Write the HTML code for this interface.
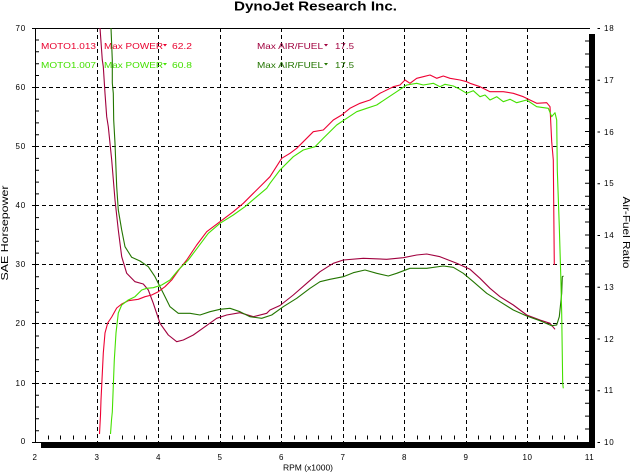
<!DOCTYPE html>
<html><head><meta charset="utf-8"><style>
html,body{margin:0;padding:0;background:#fff;}
svg{display:block;}
text{font-family:"Liberation Sans",sans-serif;}
</style></head><body>
<svg width="630" height="473" viewBox="0 0 630 473" xmlns="http://www.w3.org/2000/svg">
<rect width="630" height="473" fill="#fff"/>
<text x="234" y="10.5" font-size="13" font-weight="bold" textLength="163" lengthAdjust="spacingAndGlyphs">DynoJet Research Inc.</text>

<!-- grid -->
<g stroke="#000" stroke-width="1" stroke-dasharray="4 3" fill="none">
<line x1="97.5" y1="28" x2="97.5" y2="442"/>
<line x1="158.5" y1="28" x2="158.5" y2="442"/>
<line x1="220.5" y1="28" x2="220.5" y2="442"/>
<line x1="281.5" y1="28" x2="281.5" y2="442"/>
<line x1="343.5" y1="28" x2="343.5" y2="442"/>
<line x1="404.5" y1="28" x2="404.5" y2="442"/>
<line x1="466.5" y1="28" x2="466.5" y2="442"/>
<line x1="527.5" y1="28" x2="527.5" y2="442"/>
<line x1="35" y1="87.5" x2="589" y2="87.5"/>
<line x1="35" y1="146.5" x2="589" y2="146.5"/>
<line x1="35" y1="205.5" x2="589" y2="205.5"/>
<line x1="35" y1="264.5" x2="589" y2="264.5"/>
<line x1="35" y1="323.5" x2="589" y2="323.5"/>
<line x1="35" y1="383.5" x2="589" y2="383.5"/>
</g>

<!-- frame -->
<g stroke="#000" stroke-width="1" fill="none">
<line x1="32" y1="28.5" x2="590" y2="28.5"/>
<line x1="35.5" y1="28" x2="35.5" y2="443"/>
<line x1="32" y1="442.5" x2="42" y2="442.5"/>
<line x1="32" y1="87.5" x2="35" y2="87.5"/>
<line x1="32" y1="146.5" x2="35" y2="146.5"/>
<line x1="32" y1="205.5" x2="35" y2="205.5"/>
<line x1="32" y1="264.5" x2="35" y2="264.5"/>
<line x1="32" y1="323.5" x2="35" y2="323.5"/>
<line x1="32" y1="383.5" x2="35" y2="383.5"/>
</g>
<rect x="41" y="442" width="554" height="6" fill="#000"/>
<rect x="589" y="34" width="6" height="414" fill="#000"/>

<!-- left minor ticks every 2 HP -->
<g stroke="#000" stroke-width="1">
<path d="M35 430.7H39M35 418.8H39M35 407H39M35 395.2H39M35 371.5H39M35 359.7H39M35 347.8H39M35 336H39M35 312.3H39M35 300.5H39M35 288.6H39M35 276.8H39M35 253.1H39M35 241.3H39M35 229.4H39M35 217.6H39M35 193.9H39M35 182.1H39M35 170.2H39M35 158.4H39M35 134.7H39M35 122.9H39M35 111H39M35 99.2H39M35 75.5H39M35 63.7H39M35 51.8H39M35 40H39"/>
</g>

<!-- bottom minor ticks -->
<g stroke="#000" stroke-width="1">
<path d="M48.5 435.5V439.5M60.5 435.5V439.5M73.5 435.5V439.5M85.5 435.5V439.5M109.5 435.5V439.5M122.5 435.5V439.5M134.5 435.5V439.5M146.5 435.5V439.5M171.5 435.5V439.5M183.5 435.5V439.5M195.5 435.5V439.5M208.5 435.5V439.5M232.5 435.5V439.5M244.5 435.5V439.5M257.5 435.5V439.5M269.5 435.5V439.5M294.5 435.5V439.5M306.5 435.5V439.5M318.5 435.5V439.5M331.5 435.5V439.5M355.5 435.5V439.5M367.5 435.5V439.5M380.5 435.5V439.5M392.5 435.5V439.5M417.5 435.5V439.5M429.5 435.5V439.5M441.5 435.5V439.5M454.5 435.5V439.5M478.5 435.5V439.5M490.5 435.5V439.5M503.5 435.5V439.5M515.5 435.5V439.5M539.5 435.5V439.5M552.5 435.5V439.5M564.5 435.5V439.5M577.5 435.5V439.5"/>
</g>

<!-- right ticks every 0.25 AFR -->
<g stroke="#000" stroke-width="1">
<path d="M585 41H589M585 54H589M585 67H589M585 79.8H589M585 92.7H589M585 105.6H589M585 118.6H589M585 131.5H589M585 144.5H589M585 157.4H589M585 170.3H589M585 183.3H589M585 196.2H589M585 209.1H589M585 222H589M585 235H589M585 248H589M585 261H589M585 274H589M585 286.8H589M585 299.7H589M585 312.6H589M585 325.6H589M585 338.5H589M585 351.4H589M585 364.4H589M585 377.3H589M585 390.3H589M585 403.2H589M585 416.1H589M585 429H589"/>
<path d="M597.5 28.5H600M597.5 80.3H600M597.5 132H600M597.5 183.8H600M597.5 235.5H600M597.5 287.3H600M597.5 339H600M597.5 390.8H600M597.5 442.5H600"/>
</g>

<!-- left labels -->
<g font-size="8" text-anchor="end" letter-spacing="0.8">
<text x="26" y="31">70</text>
<text x="26" y="90">60</text>
<text x="26" y="149">50</text>
<text x="26" y="208">40</text>
<text x="26" y="267">30</text>
<text x="26" y="326">20</text>
<text x="26" y="386">10</text>
<text x="26" y="444">0</text>
</g>
<!-- right labels -->
<g font-size="8" letter-spacing="0.8">
<text x="604" y="31">18</text>
<text x="604" y="83">17</text>
<text x="604" y="135">16</text>
<text x="604" y="186">15</text>
<text x="604" y="238">14</text>
<text x="604" y="290">13</text>
<text x="604" y="342">12</text>
<text x="604" y="393">11</text>
<text x="604" y="445">10</text>
</g>
<!-- bottom labels -->
<g font-size="8" text-anchor="middle" letter-spacing="0.5">
<text x="35" y="460">2</text>
<text x="97" y="460">3</text>
<text x="158.5" y="460">4</text>
<text x="220" y="460">5</text>
<text x="281.5" y="460">6</text>
<text x="343" y="460">7</text>
<text x="404.5" y="460">8</text>
<text x="466" y="460">9</text>
<text x="527.5" y="460">10</text>
<text x="589.5" y="460">11</text>
</g>
<text x="283" y="470.5" font-size="8" textLength="50" lengthAdjust="spacingAndGlyphs">RPM (x1000)</text>
<text transform="translate(8,233) rotate(-90)" font-size="10" text-anchor="middle" textLength="95" lengthAdjust="spacingAndGlyphs">SAE Horsepower</text>
<text transform="translate(623,232.5) rotate(90)" font-size="10" text-anchor="middle" textLength="72" lengthAdjust="spacingAndGlyphs">Air-Fuel Ratio</text>

<!-- legend -->
<g font-size="8.5">
<text x="41" y="49" fill="#e8002e" textLength="55" lengthAdjust="spacingAndGlyphs">MOTO1.013</text>
<text x="104" y="49" fill="#e8002e" textLength="59" lengthAdjust="spacingAndGlyphs">Max POWER</text>
<text x="172" y="49" fill="#e8002e" textLength="20" lengthAdjust="spacingAndGlyphs">62.2</text>
<text x="257" y="49" fill="#a0003e" textLength="66" lengthAdjust="spacingAndGlyphs">Max AIR/FUEL</text>
<text x="335" y="49" fill="#a0003e" textLength="19" lengthAdjust="spacingAndGlyphs">17.5</text>
<text x="41" y="68" fill="#44e000" textLength="55" lengthAdjust="spacingAndGlyphs">MOTO1.007</text>
<text x="104" y="68" fill="#44e000" textLength="59" lengthAdjust="spacingAndGlyphs">Max POWER</text>
<text x="172" y="68" fill="#44e000" textLength="20" lengthAdjust="spacingAndGlyphs">60.8</text>
<text x="257" y="68" fill="#237500" textLength="66" lengthAdjust="spacingAndGlyphs">Max AIR/FUEL</text>
<text x="335" y="68" fill="#237500" textLength="19" lengthAdjust="spacingAndGlyphs">17.5</text>
</g>
<polygon points="163,44 167,44 165,46.5" fill="#e8002e"/>
<polygon points="324,44 328,44 326,46.5" fill="#a0003e"/>
<polygon points="163,63 167,63 165,65.5" fill="#44e000"/>
<polygon points="324,63 328,63 326,65.5" fill="#237500"/>

<!-- curves -->
<g fill="none" stroke-width="1.1" stroke-linejoin="round">
<polyline stroke="#a0003e" points="100,28 102.3,60 103.3,66.7 105,93.3 106.7,116.7 108.3,126.7 111.7,160 115,200 118.3,230 121.7,256.7 126.7,273.3 135,281.7 143.3,284 148.3,290 153.3,303.3 160,323.3 168.3,335 176.7,341.7 183.3,340 193.3,335 205,326.7 216.7,318.3 226.7,315 240,312.7 253.3,316.7 266.7,313.3 270,310 280,305.5 293.3,295 306.7,283.3 320,271.7 333.3,263.3 343.3,260 363.3,258.3 386.7,259.3 403.3,257.7 416.7,255 426.7,254 440,256.7 456.7,263.3 470,269.3 480,278.3 490,288.3 500,296.7 513.3,305 526.7,315 540,320 550,323.3 555,329.3"/>
<polyline stroke="#237500" points="111,28 112.3,60 112.3,83 113.3,93.3 113.7,120 115,143.3 116.7,186.7 118.3,210 121.7,230 125,246.7 131.7,257.3 140,261 148.3,266.7 155,276.7 163.3,293.3 170,306.7 178.3,313.3 190,313.3 200,315 210,311.7 220,309.3 230,308.3 240,311.7 250,316.7 261.7,318.3 271.7,315 283.3,306.7 296.7,298.3 310,288.3 320,281.7 330,279.3 343.3,276.7 353.3,272.7 365,270 376.7,273.3 388.3,276 396.7,273.3 410,268.3 426.7,268.3 443.3,266 453.3,267.3 463.3,273.3 473.3,281.7 486.7,293.3 500,301.7 513.3,310 526.7,316 540,320.7 551.7,325.7 556.7,325 559.3,316.7 561.7,293.3 562.3,276.7 563.5,276"/>
<polyline stroke="#ee0033" points="99.5,434 100.5,415 101,400 103.3,353 105,333 107.7,323 111.7,317 116.7,308 121.7,304 128.3,300.7 138.3,299.3 145,296.7 151.7,295 158.3,291.7 165,286.7 171.7,280 180,268.3 186.7,260 196.7,245 206.7,231.7 220,221.7 233.3,211.7 243.3,203.3 253.3,193.3 261.7,185 270,176.7 281.7,158.3 290,153.3 296.7,148.3 303.3,141.7 313.3,131.7 323.3,130 333.3,120 341.7,115 350,108.3 360,103.3 370,100 380,93.3 393.3,86.7 400,85 405,80 410,83.3 416.7,78.3 423.3,76.7 430,75 436.7,78.3 443.3,76 450,78.3 460,80 466.7,81.7 470,83.3 480,86.7 490,91.7 503.3,91.7 513.3,93.3 523.3,96.7 530,100 536.7,103.3 546.7,102.7 550,106.7 551.7,141.7 553.3,160 554.3,265"/>
<polyline stroke="#44e000" points="110.5,434 111.5,420 112.3,412 114.3,360 116,333 118.3,313 121.7,305 128.3,300 135,296.7 141.7,290 146.7,288.3 153.3,287.7 161.7,285 170,280 178.3,270 188.3,260 198.3,246.7 208.3,233.3 220,223.3 233.3,215 245,206.7 256.7,196.7 266.7,188.3 270,183.3 280,170 293.3,156.7 303.3,150 315,146.7 323.3,138.3 336.7,125 346.7,118.3 356.7,111.7 366.7,108.3 376.7,105 386.7,98.3 396.7,91.7 406.7,85 416.7,83.3 423.3,85 433.3,83.3 440,86.7 445,84.3 453.3,86 460,89.3 466.7,93.3 473.3,90.7 480,96.7 485,95 490,100 496.7,96.7 503.3,101.7 510,99.3 516.7,102.7 526.7,100 536.7,106.7 548.3,108.3 551.7,116.7 555,112.7 556.7,120 557.3,170 559.3,226.7 560.7,273.3 561.7,313.3 562.7,383.3 563.3,388.3"/>
</g>
</svg>
</body></html>
